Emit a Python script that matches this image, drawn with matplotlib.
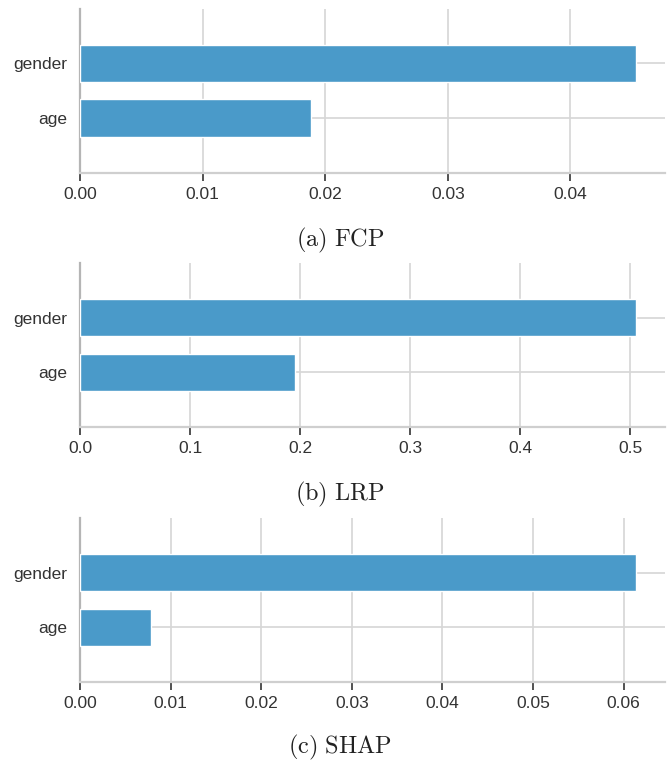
import matplotlib
matplotlib.use("Agg")
import matplotlib.pyplot as plt
import numpy as np

features = ["gender", "age"]
fcp = [0.04531, 0.01883]
lrp = [0.505, 0.1955]
shap = [0.06133, 0.00784]
captions = ["(a)\\ FCP", "(b)\\ LRP", "(c)\\ SHAP"]
xticks = [np.arange(0, 0.045, 0.01), np.arange(0, 0.55, 0.1), np.arange(0, 0.065, 0.01)]
xfmt = ["%.2f", "%.1f", "%.2f"]

plt.rcParams["font.family"] = ["Liberation Sans", "DejaVu Sans"]
plt.rcParams["mathtext.fontset"] = "cm"

W, H = 668, 761
fig = plt.figure(figsize=(W / 100, H / 100), dpi=100)

# axes boxes in pixels: (top, bottom) ; caption y
boxes = [(8.5, 172.7, 240), (263.3, 426.7, 494), (518.3, 681.7, 747)]
left, right = 80, 665

for k, vals in enumerate([fcp, lrp, shap]):
    top, bot, capy = boxes[k]
    ax = fig.add_axes([left / W, 1 - bot / H, (right - left) / W, (bot - top) / H])
    y = np.arange(len(features))
    ax.barh(y, vals, height=0.68, color="#4a9ac9", edgecolor="white", linewidth=1, zorder=3)
    ax.set_ylim(2, -1)
    ax.set_xlim(0, max(vals) * 1.053)
    ax.set_yticks(y)
    ax.set_yticklabels(features)
    ax.set_xticks(xticks[k])
    ax.set_xticklabels([xfmt[k] % t for t in xticks[k]])
    ax.grid(True, color="#d6d6d6", linewidth=1.2, zorder=0)
    ax.set_axisbelow(True)
    for s in ["top", "right"]:
        ax.spines[s].set_visible(False)
    ax.spines["left"].set_color("#b5b5b5")
    ax.spines["left"].set_linewidth(1.6)
    ax.spines["left"].set_zorder(1)
    ax.spines["bottom"].set_color("#cfcfcf")
    ax.spines["bottom"].set_linewidth(1.6)
    ax.tick_params(axis="x", length=6, width=1.2, color="#333333", labelsize=12.5,
                   labelcolor="#333333", pad=4)
    ax.tick_params(axis="y", length=0, labelsize=12.5, labelcolor="#333333", pad=9)
    fig.text(340 / W, 1 - capy / H, "$\\mathrm{" + captions[k] + "}$", ha="center",
             va="center", fontsize=17.5, color="#222222")

fig.savefig("out.png", dpi=100)
